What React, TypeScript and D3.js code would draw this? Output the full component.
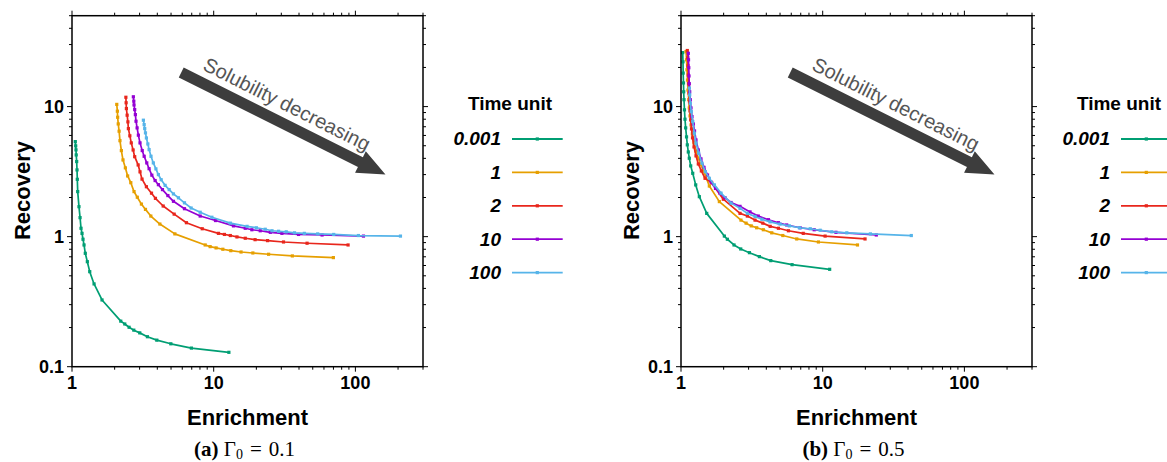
import React from "react";
import * as d3 from "d3";

// legend entries and colours
const timeUnits = ["0.001", "1", "2", "10", "100"];
const colors = ["#009e73", "#e69f00", "#e8261c", "#9400d3", "#56b4e9"];
const xTicks = [1, 10, 100];
const yTicks = [0.1, 1, 10];
const captionTags = ["(a)", "(b)"];
const gammaValues = ["0.1", "0.5"];
const arrowText = "Solubility decreasing";
// arrow annotation in data units (enrichment, recovery)
const arrowFrom: [number, number] = [5.9, 18.3];
const arrowTo: [number, number] = [163, 3.0];

// panel (a) Gamma0 = 0.1, [enrichment, recovery]
const a0001 = [[1.055,5.38],[1.062,4.99],[1.067,4.65],[1.071,4.25],[1.079,3.78],[1.085,3.26],[1.09,2.76],[1.097,2.22],[1.12,1.7],[1.14,1.4],[1.158,1.16],[1.177,1.06],[1.196,0.955],[1.216,0.863],[1.241,0.745],[1.283,0.642],[1.334,0.538],[1.431,0.433],[1.629,0.326],[2.209,0.224],[2.358,0.213],[2.529,0.201],[2.731,0.191],[3.007,0.182],[3.405,0.17],[3.967,0.16],[4.983,0.15],[6.96,0.139],[12.8,0.129]];
const a1 = [[2.07,10.4],[2.09,9.22],[2.1,8.28],[2.12,7.36],[2.15,6.47],[2.18,5.47],[2.23,4.59],[2.29,3.89],[2.38,3.38],[2.47,2.93],[2.6,2.6],[2.74,2.22],[2.89,2.01],[3.09,1.78],[3.3,1.62],[3.6,1.44],[4.17,1.25],[5.32,1.05],[8.71,0.863],[9.44,0.838],[10.4,0.819],[11.6,0.8],[13.2,0.78],[15.6,0.762],[18.9,0.749],[24.4,0.732],[35.9,0.711],[69.9,0.69]];
const a2 = [[2.4,11.8],[2.41,10.7],[2.42,9.66],[2.45,8.59],[2.48,7.63],[2.5,6.77],[2.56,5.96],[2.62,5.26],[2.7,4.64],[2.77,4.12],[2.93,3.56],[3.02,3.15],[3.12,2.77],[3.35,2.42],[3.64,2.16],[3.88,1.97],[4.4,1.72],[5.26,1.49],[6.42,1.28],[8.3,1.15],[10.8,1.06],[11.9,1.04],[13.1,1.02],[14.6,0.995],[16.7,0.972],[19.6,0.948],[24,0.932],[31.1,0.91],[45.6,0.89],[88.8,0.863]];
const a10 = [[2.71,11.9],[2.73,11],[2.74,10.3],[2.77,9.48],[2.8,8.68],[2.83,7.72],[2.88,6.86],[2.94,6.03],[3.02,5.26],[3.13,4.59],[3.23,4.15],[3.37,3.69],[3.5,3.33],[3.66,2.97],[3.86,2.7],[4.07,2.51],[4.35,2.3],[4.75,2.07],[5.2,1.87],[6.22,1.64],[8.03,1.44],[10.3,1.33],[13.8,1.21],[16.7,1.16],[18.6,1.13],[21.3,1.11],[25.1,1.08],[30.3,1.06],[39.7,1.04],[58.2,1.03],[114,1.01]];
const a100 = [[3.19,7.86],[3.23,7.27],[3.26,6.77],[3.3,6.28],[3.35,5.74],[3.43,5.16],[3.5,4.67],[3.61,4.15],[3.75,3.69],[3.91,3.32],[4.07,3],[4.26,2.74],[4.54,2.48],[4.85,2.3],[5.2,2.13],[5.64,1.99],[6.22,1.82],[6.93,1.66],[8.03,1.54],[9.71,1.41],[13.1,1.27],[17.2,1.2],[20,1.17],[23.1,1.14],[25.8,1.11],[28.7,1.1],[32.5,1.09],[37.2,1.07],[43.6,1.06],[54.2,1.05],[70.3,1.04],[105,1.02],[208,1.01]];

// panel (b) Gamma0 = 0.5
const b0001 = [[1.028,26],[1.033,22.1],[1.036,18.1],[1.041,15.2],[1.045,13],[1.05,11.3],[1.058,9.44],[1.067,8],[1.079,6.86],[1.094,5.85],[1.108,5.08],[1.126,4.48],[1.144,4.01],[1.171,3.5],[1.21,3.07],[1.27,2.5],[1.347,2.03],[1.519,1.51],[2.023,1.01],[2.124,0.955],[2.367,0.863],[2.64,0.804],[3.04,0.753],[3.574,0.702],[4.3,0.654],[6.08,0.609],[11.2,0.561]];
const b1 = [[1.085,26.5],[1.094,22.9],[1.102,19.2],[1.111,16],[1.12,13.4],[1.134,11.3],[1.144,9.77],[1.158,8.48],[1.177,7.23],[1.202,6.17],[1.235,5.26],[1.276,4.56],[1.325,4.01],[1.378,3.58],[1.454,3.15],[1.585,2.45],[1.865,1.86],[2.65,1.34],[2.88,1.27],[3.13,1.21],[3.42,1.17],[3.81,1.13],[4.37,1.07],[5.23,1.02],[6.56,0.96],[9.33,0.91],[17.6,0.863]];
const b2 = [[1.108,27],[1.115,23.7],[1.121,20.6],[1.126,17.5],[1.133,15],[1.139,12.7],[1.148,10.9],[1.158,9.27],[1.171,7.9],[1.186,6.74],[1.206,5.75],[1.235,4.9],[1.276,4.18],[1.325,3.62],[1.392,3.2],[1.478,2.81],[1.648,2.59],[1.99,1.94],[2.61,1.51],[2.94,1.44],[3.33,1.34],[3.78,1.27],[4.26,1.2],[4.87,1.16],[5.73,1.11],[7.29,1.06],[10.4,1.01],[19.9,0.96]];
const b10 = [[1.126,25.7],[1.13,22.9],[1.135,19.9],[1.139,17.2],[1.144,15],[1.152,13],[1.163,11.3],[1.177,9.77],[1.196,8.38],[1.222,7.36],[1.246,6.5],[1.276,5.54],[1.325,4.64],[1.384,3.96],[1.454,3.41],[1.539,2.98],[1.629,2.63],[1.752,2.35],[1.886,2.15],[2.045,1.99],[2.256,1.83],[2.61,1.71],[3.07,1.55],[3.51,1.44],[4.14,1.35],[4.87,1.28],[5.57,1.23],[6.93,1.17],[8.71,1.13],[12.4,1.08],[23.9,1.03]];
const b100 = [[1.145,13.9],[1.152,12.3],[1.163,10.6],[1.182,9.15],[1.21,7.67],[1.242,6.24],[1.276,5.23],[1.334,4.38],[1.407,3.67],[1.485,3.16],[1.584,2.81],[1.72,2.5],[1.917,2.16],[2.256,1.81],[2.61,1.65],[2.94,1.51],[3.33,1.43],[3.72,1.36],[4.25,1.3],[5,1.25],[5.82,1.21],[6.85,1.17],[8.17,1.15],[9.6,1.12],[11.6,1.09],[14.8,1.07],[21.7,1.05],[42.2,1.02]];

const panels = [
  { series: [a0001, a1, a2, a10, a100], offset: 0 },
  { series: [b0001, b1, b2, b10, b100], offset: 609 },
];

const FONT = "'Liberation Sans', Arial, sans-serif";
const SERIF = "'Liberation Serif', 'Times New Roman', serif";
const left = 72, top = 15.7, pw = 351, ph = 351;

const x = d3.scaleLog().domain([1, 300]).range([0, pw]);
const y = d3.scaleLog().domain([0.1, 50]).range([ph, 0]);

const line = d3.line<number[]>()
  .x(d => x(d[0]))
  .y(d => y(d[1]));

function Panel({ series, offset, idx }: any) {
  const xt = x.ticks();
  const yt = y.ticks();
  const isMajor = (v: number) => Math.abs(Math.log10(v) - Math.round(Math.log10(v))) < 1e-6;

  // arrow geometry from the data-unit endpoints
  const p0 = [x(arrowFrom[0]), y(arrowFrom[1])];
  const p1 = [x(arrowTo[0]), y(arrowTo[1])];
  const dx = p1[0] - p0[0], dy = p1[1] - p0[1];
  const len = Math.hypot(dx, dy);
  const ang = Math.atan2(dy, dx) * 180 / Math.PI;
  const hl = 28, sw = 5.5, hw = 12;
  const arrowPts = [[0, -sw], [len - hl, -sw], [len - hl, -hw], [len, 0], [len - hl, hw], [len - hl, sw], [0, sw]]
    .map(p => p.join(",")).join(" ");

  const legX = pw + 78;
  const rowY = (i: number) => 139 - top + i * 33.4;

  return (
    <g transform={`translate(${left + offset},${top})`}>
      {/* curves */}
      {series.map((s: number[][], i: number) => (
        <g key={i}>
          <path d={line(s) || ""} fill="none" stroke={colors[i]} strokeWidth={1.7} strokeLinejoin="round" />
          {s.map((d, j) => (
            <rect key={j} x={x(d[0]) - 1.6} y={y(d[1]) - 1.6} width={3.2} height={3.2} fill={colors[i]} />
          ))}
        </g>
      ))}

      {/* frame */}
      <rect x={0} y={0} width={pw} height={ph} fill="none" stroke="#000" strokeWidth={1.5} />

      {/* ticks, outward on all four sides */}
      {xt.map((v, i) => {
        const L = isMajor(v) ? 5 : 3;
        return (
          <g key={"xt" + i} stroke="#000" strokeWidth={1}>
            <line x1={x(v)} x2={x(v)} y1={ph} y2={ph + L} />
            <line x1={x(v)} x2={x(v)} y1={0} y2={-L} />
          </g>
        );
      })}
      {yt.map((v, i) => {
        const L = isMajor(v) ? 5 : 3;
        return (
          <g key={"yt" + i} stroke="#000" strokeWidth={1}>
            <line x1={0} x2={-L} y1={y(v)} y2={y(v)} />
            <line x1={pw} x2={pw + L} y1={y(v)} y2={y(v)} />
          </g>
        );
      })}

      {/* tick labels */}
      {xTicks.map(v => (
        <text key={"xl" + v} x={x(v)} y={ph + 22} textAnchor="middle" fontFamily={FONT} fontWeight="bold" fontSize={18}>{v}</text>
      ))}
      {yTicks.map(v => (
        <text key={"yl" + v} x={-8} y={y(v) + 6.5} textAnchor="end" fontFamily={FONT} fontWeight="bold" fontSize={18}>{v}</text>
      ))}

      {/* axis titles */}
      <text x={pw / 2} y={ph + 58} textAnchor="middle" fontFamily={FONT} fontWeight="bold" fontSize={22}>Enrichment</text>
      <text transform={`translate(${-42},${ph / 2 - top + 15}) rotate(-90)`} textAnchor="middle" fontFamily={FONT} fontWeight="bold" fontSize={22}>Recovery</text>

      {/* caption */}
      <text x={pw / 2 - 3} y={456 - top} textAnchor="middle" fontFamily={SERIF} fontSize={21}>
        <tspan fontWeight="bold">{captionTags[idx]}</tspan>
        <tspan>{" \u0393"}</tspan>
        <tspan fontSize={14} dy={3}>0</tspan>
        <tspan dy={-3}>{"\u2004=\u2004" + gammaValues[idx]}</tspan>
      </text>

      {/* arrow annotation */}
      <g transform={`translate(${p0[0]},${p0[1]}) rotate(${ang})`}>
        <polygon points={arrowPts} fill="#3d3d3d" />
        <text x={17} y={-12} fontFamily={FONT} fontSize={20} fill="#555">{arrowText}</text>
      </g>

      {/* legend */}
      <text x={438} y={110 - top} textAnchor="middle" fontFamily={FONT} fontWeight="bold" fontSize={19}>Time unit</text>
      {timeUnits.map((t, i) => (
        <g key={"lg" + i}>
          <text x={legX} y={rowY(i) + 6.5} textAnchor="end" fontFamily={FONT} fontWeight="bold" fontStyle="italic" fontSize={19}>{t}</text>
          <line x1={legX + 11} x2={legX + 61.7} y1={rowY(i)} y2={rowY(i)} stroke={colors[i]} strokeWidth={1.8} />
          <rect x={legX + 36.3 - 1.6} y={rowY(i) - 1.6} width={3.2} height={3.2} fill={colors[i]} />
        </g>
      ))}
    </g>
  );
}

export default function App() {
  return (
    <svg width={1167} height={462} style={{ position: "absolute", left: 0, top: 0, background: "#fff" }}>
      <rect width={1167} height={462} fill="#fff" />
      {panels.map((p, i) => (
        <Panel key={i} series={p.series} offset={p.offset} idx={i} />
      ))}
    </svg>
  );
}
